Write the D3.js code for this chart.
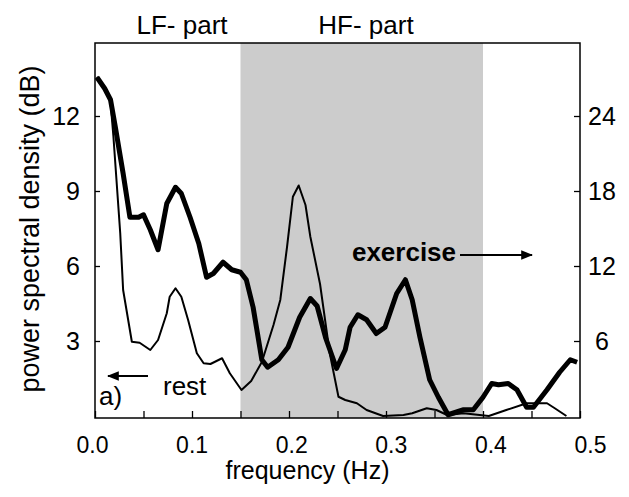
<!DOCTYPE html>
<html>
<head>
<meta charset="utf-8">
<script src="https://cdn.jsdelivr.net/npm/d3@7"></script>
<style>
  body { margin: 0; background: #fff; }
  text { font-family: "Liberation Sans", Arial, sans-serif; fill: #000; }
</style>
</head>
<body>
<div id="chart"></div>
<script>
// exercise spectrum (thick line, right axis)
const exFreq = [0.002, 0.010, 0.016, 0.021, 0.029, 0.036, 0.045, 0.050, 0.057, 0.065,
  0.074, 0.083, 0.089, 0.098, 0.107, 0.115, 0.122, 0.132, 0.141, 0.150,
  0.156, 0.163, 0.172, 0.178, 0.189, 0.199, 0.211, 0.222, 0.229, 0.238,
  0.249, 0.258, 0.263, 0.271, 0.280, 0.290, 0.299, 0.311, 0.320, 0.327,
  0.335, 0.345, 0.354, 0.364, 0.380, 0.390, 0.400, 0.409, 0.416, 0.426,
  0.435, 0.445, 0.452, 0.466, 0.479, 0.490, 0.497];
const exPower = [27.1, 26.2, 25.3, 23.1, 19.4, 15.9, 15.9, 16.1, 14.9, 13.3,
  17.0, 18.3, 17.8, 15.9, 13.8, 11.1, 11.4, 12.3, 11.7, 11.5,
  10.9, 8.7, 4.5, 3.9, 4.5, 5.5, 7.9, 9.4, 8.8, 6.2,
  3.8, 5.3, 7.1, 8.1, 7.7, 6.6, 7.1, 9.8, 10.9, 9.3,
  6.3, 2.9, 1.5, 0.1, 0.5, 0.5, 1.5, 2.6, 2.5, 2.6,
  2.1, 0.7, 0.7, 2.1, 3.5, 4.5, 4.3];

// rest spectrum (thin line, left axis)
const restFreq = [0.002, 0.010, 0.016, 0.019, 0.026, 0.029, 0.038, 0.046, 0.057, 0.065,
  0.074, 0.077, 0.083, 0.089, 0.096, 0.105, 0.112, 0.119, 0.131, 0.139,
  0.151, 0.161, 0.172, 0.184, 0.191, 0.198, 0.204, 0.210, 0.217, 0.222,
  0.232, 0.242, 0.251, 0.258, 0.270, 0.280, 0.297, 0.318, 0.327, 0.342,
  0.352, 0.363, 0.380, 0.406, 0.424, 0.445, 0.466, 0.474, 0.486];
const restPower = [13.57, 13.1, 12.56, 11.17, 7.32, 5.04, 2.97, 2.93, 2.64, 3.04,
  4.11, 4.77, 5.11, 4.77, 3.84, 2.51, 2.11, 2.08, 2.31, 1.71,
  1.04, 1.4, 2.16, 3.64, 4.64, 6.77, 8.77, 9.22, 8.44, 7.17,
  5.28, 2.51, 0.77, 0.64, 0.51, 0.24, 0.0, 0.04, 0.11, 0.31,
  0.24, 0.04, 0.11, 0.0, 0.24, 0.51, 0.51, 0.31, 0.0];

const hfBand = [0.15, 0.4];
const xMarks = d3.range(0, 0.501, 0.05);
const xLabels = [0, 0.1, 0.2, 0.3, 0.4, 0.5];
const leftTicks = [3, 6, 9, 12];
const rightTicks = [6, 12, 18, 24];

const W = 629, H = 497;
const plotL = 95, plotR = 580, plotT = 43, plotB = 418;

const svg = d3.select("#chart").append("svg")
  .attr("width", W)
  .attr("height", H);

svg.append("defs").append("marker")
  .attr("id", "head")
  .attr("viewBox", "0 0 10 10")
  .attr("refX", 9).attr("refY", 5)
  .attr("markerWidth", 6).attr("markerHeight", 6)
  .attr("markerUnits", "strokeWidth")
  .attr("orient", "auto")
  .append("path")
  .attr("d", "M0,1 L10,5 L0,9 Z")
  .attr("fill", "#000");

// scales
const x = d3.scaleLinear().domain([0, 0.5]).range([plotL, plotR]);
const xLab = d3.scaleLinear().domain([0, 0.5]).range([92, 590]);
const yL = d3.scaleLinear().domain([-0.08, 14.92]).range([plotB, plotT]);
const yR = d3.scaleLinear().domain([-0.16, 29.84]).range([plotB, plotT]);

// HF band shading
svg.append("rect")
  .attr("x", x(hfBand[0]))
  .attr("y", plotT)
  .attr("width", x(hfBand[1]) - x(hfBand[0]))
  .attr("height", plotB - plotT)
  .attr("fill", "#cccccc");

// lines
const restLine = d3.line()
  .x((d, i) => x(restFreq[i]))
  .y(d => yL(d));
const exLine = d3.line()
  .x((d, i) => x(exFreq[i]))
  .y(d => yR(d));

svg.append("path")
  .attr("d", restLine(restPower))
  .attr("fill", "none")
  .attr("stroke", "#000")
  .attr("stroke-width", 2)
  .attr("stroke-linejoin", "round");

svg.append("path")
  .attr("d", exLine(exPower))
  .attr("fill", "none")
  .attr("stroke", "#000")
  .attr("stroke-width", 5)
  .attr("stroke-linejoin", "round");

// axes
const xAxisMarks = svg.append("g")
  .attr("transform", `translate(0,${plotB})`)
  .call(d3.axisBottom(x).tickValues(xMarks).tickSize(-7).tickFormat(""));

const xAxisText = svg.append("g")
  .attr("transform", `translate(0,${plotB})`)
  .call(d3.axisBottom(xLab).tickValues(xLabels).tickSize(0).tickPadding(19)
    .tickFormat(d3.format(".1f")));
xAxisText.selectAll("line").remove();

const yLeft = svg.append("g")
  .attr("transform", `translate(${plotL},0)`)
  .call(d3.axisLeft(yL).tickValues(leftTicks).tickSize(-5).tickPadding(15));

const yRight = svg.append("g")
  .attr("transform", `translate(${plotR},0)`)
  .call(d3.axisRight(yR).tickValues(rightTicks).tickSize(-6).tickPadding(22));
yRight.selectAll("text").attr("text-anchor", "middle");

[xAxisMarks, xAxisText, yLeft, yRight].forEach(g => {
  g.select(".domain").remove();
  g.selectAll("line").attr("stroke", "#000").attr("stroke-width", 1.3);
  g.selectAll("text")
    .style("font-family", '"Liberation Sans", Arial, sans-serif')
    .style("font-size", "25px")
    .attr("fill", "#000");
});
xAxisText.selectAll("text").style("font-size", "23px");

// frame
svg.append("rect")
  .attr("x", plotL).attr("y", plotT)
  .attr("width", plotR - plotL).attr("height", plotB - plotT)
  .attr("fill", "none")
  .attr("stroke", "#000")
  .attr("stroke-width", 1.5);

// titles
svg.append("text")
  .attr("x", 307.5).attr("y", 479)
  .attr("text-anchor", "middle")
  .style("font-size", "25px")
  .text("frequency (Hz)");

svg.append("text")
  .attr("transform", "translate(39,229) rotate(-90)")
  .attr("text-anchor", "middle")
  .style("font-size", "27px")
  .text("power spectral density (dB)");

svg.append("text")
  .attr("x", 182).attr("y", 34)
  .attr("text-anchor", "middle")
  .style("font-size", "26px")
  .text("LF- part");

svg.append("text")
  .attr("x", 366).attr("y", 34)
  .attr("text-anchor", "middle")
  .style("font-size", "26px")
  .text("HF- part");

// annotations
svg.append("text")
  .attr("x", 404).attr("y", 261)
  .attr("text-anchor", "middle")
  .style("font-size", "26px")
  .style("font-weight", "bold")
  .text("exercise");

svg.append("line")
  .attr("x1", 460).attr("y1", 255)
  .attr("x2", 532).attr("y2", 255)
  .attr("stroke", "#000").attr("stroke-width", 2)
  .attr("marker-end", "url(#head)");

svg.append("text")
  .attr("x", 163).attr("y", 395)
  .style("font-size", "26px")
  .text("rest");

svg.append("line")
  .attr("x1", 148).attr("y1", 376)
  .attr("x2", 108).attr("y2", 376)
  .attr("stroke", "#000").attr("stroke-width", 2)
  .attr("marker-end", "url(#head)");

svg.append("text")
  .attr("x", 99).attr("y", 405)
  .style("font-size", "26px")
  .text("a)");
</script>
</body>
</html>
